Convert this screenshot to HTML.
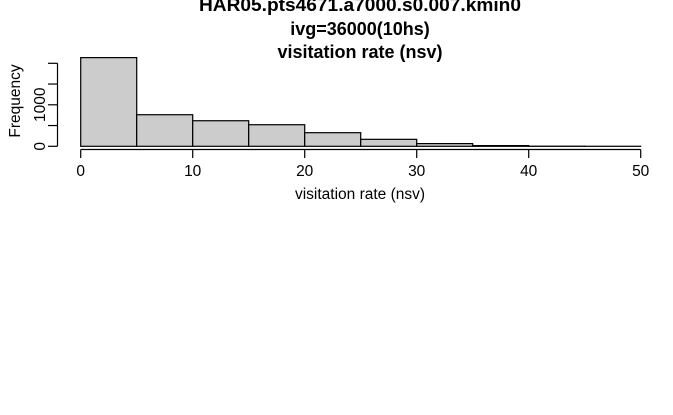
<!DOCTYPE html>
<html><head><meta charset="utf-8"><style>
html,body{margin:0;padding:0;background:#fff;}
svg{display:block;font-family:"Liberation Sans",Arial,sans-serif;}
</style></head><body>
<svg id="chart" width="673" height="415" viewBox="0 0 673 415">
<g font-weight="bold" font-size="18" text-anchor="middle" fill="#000">
<text x="360" y="11" textLength="322" lengthAdjust="spacingAndGlyphs">HAR05.pts4671.a7000.s0.007.kmin0</text>
<text x="360" y="35">ivg=36000(10hs)</text>
<text x="360" y="58">visitation rate (nsv)</text>
</g>
<g id="bars"></g>
<g id="xaxis"></g>
<g id="yaxis"></g>
<text x="360" y="199" font-size="15.5" text-anchor="middle">visitation rate (nsv)</text>
<text transform="translate(20,101) rotate(-90)" font-size="15.5" text-anchor="middle">Frequency</text>
</svg>
<script>
const binStarts = [0,5,10,15,20,25,30,35,40,45];
const binWidth = 5;
const counts = [2137,761,616,520,328,168,65,17,3,1];
const xTicks = [0,10,20,30,40,50];
const yTicks = [0,500,1000,1500,2000];
const yTickLabels = ["0","","1000","",""];
const NS="http://www.w3.org/2000/svg";
function xs(v){return 80.7+v*11.2;}
function ys(v){return 146.3-v*0.0415;}
function mk(t,a,p){const e=document.createElementNS(NS,t);for(const k in a)e.setAttribute(k,a[k]);p.appendChild(e);return e;}
const bars=document.getElementById('bars');
binStarts.forEach((s,i)=>{
  const x0=xs(s),x1=xs(s+binWidth),y=ys(counts[i]);
  const r=mk('rect',{x:x0,y:y,width:x1-x0,height:ys(0)-y,fill:'#cccccc',stroke:'#000','stroke-width':1.2},bars);
  
  
});
const xa=document.getElementById('xaxis');
mk('line',{x1:xs(0),x2:xs(50),y1:149.5,y2:149.5,stroke:'#000','stroke-width':1.2},xa);
xTicks.forEach(t=>{
  mk('line',{x1:xs(t),x2:xs(t),y1:149.5,y2:158,stroke:'#000','stroke-width':1.2},xa);
  const tx=mk('text',{x:xs(t),y:176,'font-size':15.5,'text-anchor':'middle'},xa);
  tx.textContent=t;
  
  
});
const ya=document.getElementById('yaxis');
mk('line',{x1:57.5,x2:57.5,y1:ys(0),y2:ys(2000),stroke:'#000','stroke-width':1.2},ya);
yTicks.forEach((t,i)=>{
  mk('line',{x1:48,x2:57.5,y1:ys(t),y2:ys(t),stroke:'#000','stroke-width':1.2},ya);
  if(yTickLabels[i]){
    const tx=mk('text',{transform:'translate(45,'+ys(t)+') rotate(-90)','font-size':15.5,'text-anchor':'middle'},ya);
    tx.textContent=yTickLabels[i];
    
    
  }
});
</script>
</body></html>
